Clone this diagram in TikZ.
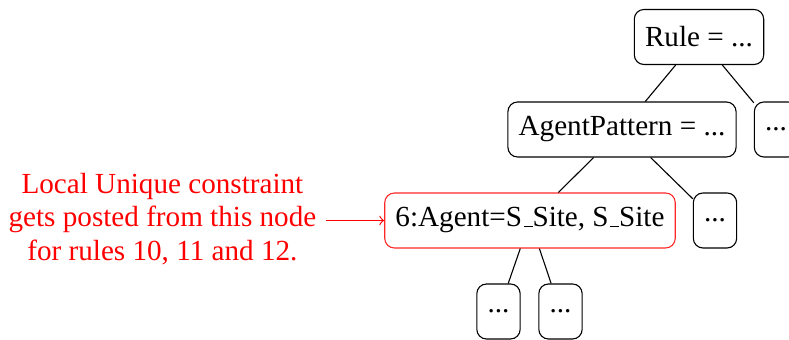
\documentclass[tikz,border=0pt]{standalone}
\usepackage{fontspec}
\setmainfont{Liberation Serif}
\newcommand{\lowbar}{\leavevmode\kern.06em\vbox{\hrule width.3em}}
\begin{document}
\begin{tikzpicture}[x=0.3636pt,y=-0.3636pt,
  tnode/.style={draw, rounded corners=3.5pt, minimum height=20pt, inner xsep=3.9pt, font=\fontsize{10.6}{12.4}\selectfont},
  hot/.style={tnode, draw=red!85},
  edge/.style={draw, line width=0.4pt},
  note/.style={text=red, align=center, font=\fontsize{10.6}{12.1}\selectfont}]
  \useasboundingbox (0,0) rectangle (789,340);
  \begin{scope}
  \clip (0,0) rectangle (789,340);
  % parse tree
  \node[tnode] (rule) at (699,37) {Rule = ...};
  \node[tnode] (ap) at (622,129.5) {AgentPattern = ...};
  \node[tnode] (d1) at (776,129.5) {...};
  \node[hot] (agent) at (530,220.5) {6:Agent=S\lowbar Site, S\lowbar Site};
  \node[tnode] (d2) at (715,220.5) {...};
  \node[tnode] (d3) at (498.5,311.5) {...};
  \node[tnode] (d4) at (560.5,311.5) {...};
  \draw[edge] (rule) -- (ap);
  \draw[edge] (rule) -- (d1);
  \draw[edge] (ap) -- (agent);
  \draw[edge] (ap) -- (d2);
  \draw[edge] (agent) -- (d3);
  \draw[edge] (agent) -- (d4);
  % annotation
  \node[note, anchor=east] (txt) at (326,219) {Local Unique constraint\\gets posted from this node\\for rules 10, 11 and 12.};
  \draw[red,->] (txt.east |- 0,220.5) -- (agent.west |- 0,220.5);
  \end{scope}
\end{tikzpicture}
\end{document}
